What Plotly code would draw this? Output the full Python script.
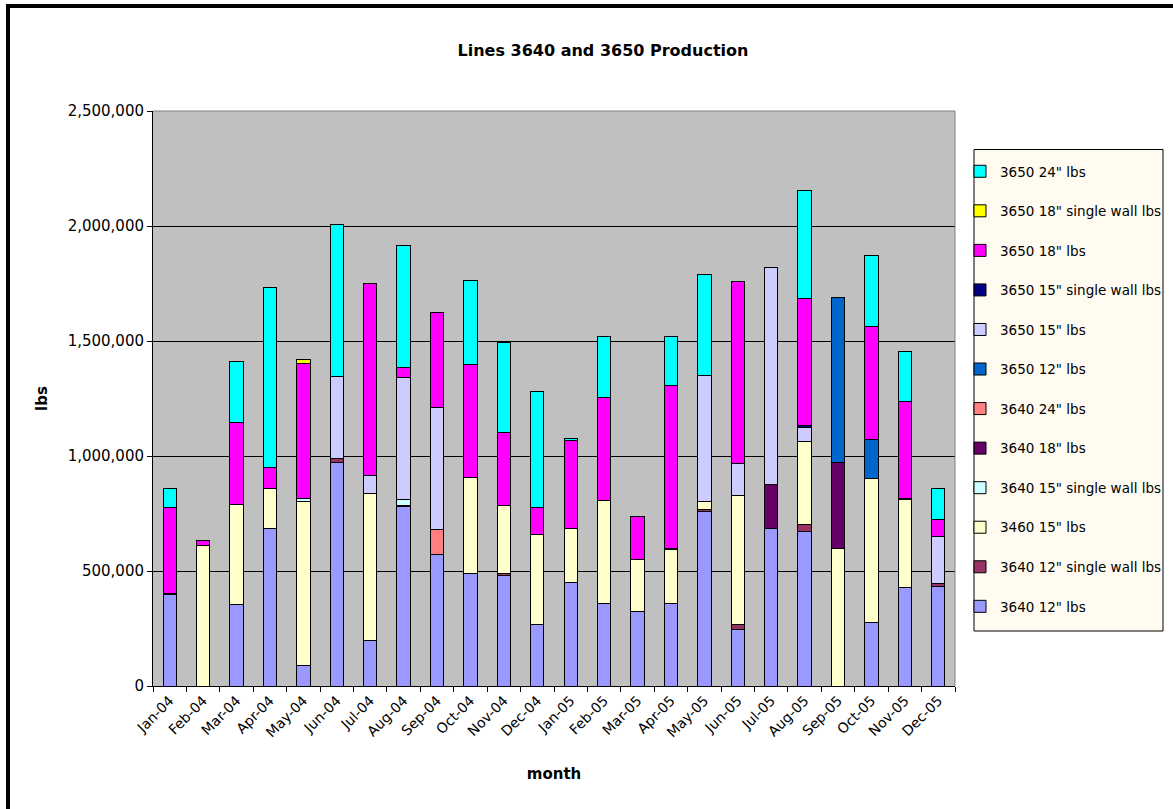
import plotly.graph_objects as go

# Monthly production, Jan 2004 - Dec 2005
months = ["Jan-04", "Feb-04", "Mar-04", "Apr-04", "May-04", "Jun-04",
          "Jul-04", "Aug-04", "Sep-04", "Oct-04", "Nov-04", "Dec-04",
          "Jan-05", "Feb-05", "Mar-05", "Apr-05", "May-05", "Jun-05",
          "Jul-05", "Aug-05", "Sep-05", "Oct-05", "Nov-05", "Dec-05"]

l3640_12 = [400000, 0, 353000, 684000, 91000, 970000, 196000, 779000, 573000, 490000, 481000, 269000,
            451000, 360000, 326000, 360000, 760000, 247000, 686000, 672000, 0, 276000, 429000, 434000]
l3640_12_sw = [4000, 0, 0, 0, 0, 19000, 0, 6000, 0, 0, 7000, 0,
               0, 0, 0, 0, 9000, 20000, 0, 32000, 0, 0, 0, 10000]
l3460_15 = [0, 610000, 438000, 176000, 710000, 0, 642000, 0, 0, 417000, 298000, 388000,
            233000, 447000, 225000, 232000, 35000, 563000, 0, 357000, 600000, 628000, 382000, 0]
l3640_15_sw = [0, 0, 0, 0, 15000, 0, 0, 26000, 0, 0, 0, 0,
               0, 0, 0, 5000, 0, 0, 0, 0, 0, 0, 5000, 0]
l3640_18 = [0, 0, 0, 0, 0, 0, 0, 0, 0, 0, 0, 0,
            0, 0, 0, 0, 0, 0, 189000, 0, 370000, 0, 0, 0]
l3640_24 = [0, 0, 0, 0, 0, 0, 0, 0, 108000, 0, 0, 0,
            0, 0, 0, 0, 0, 0, 0, 0, 0, 0, 0, 0]
l3650_12 = [0, 0, 0, 0, 0, 0, 0, 0, 0, 0, 0, 0,
            0, 0, 0, 0, 0, 0, 0, 0, 721000, 166000, 0, 0]
l3650_15 = [0, 0, 0, 0, 0, 356000, 78000, 530000, 532000, 0, 0, 0,
            0, 0, 0, 0, 545000, 139000, 943000, 64000, 0, 0, 0, 206000]
l3650_15_sw = [0, 0, 0, 0, 0, 0, 0, 0, 0, 0, 0, 0,
               0, 0, 0, 0, 0, 0, 0, 7000, 0, 0, 0, 0]
l3650_18 = [371000, 22000, 353000, 88000, 585000, 0, 833000, 45000, 411000, 492000, 317000, 119000,
            382000, 447000, 184000, 708000, 0, 790000, 0, 551000, 0, 493000, 419000, 75000]
l3650_18_sw = [0, 0, 0, 0, 20000, 0, 0, 0, 0, 0, 0, 0,
               0, 0, 0, 0, 0, 0, 0, 0, 0, 0, 0, 0]
l3650_24 = [85000, 0, 267000, 784000, 0, 662000, 0, 529000, 0, 365000, 389000, 506000,
            10000, 265000, 0, 214000, 440000, 0, 0, 471000, 0, 308000, 220000, 135000]

# stacking order, bottom to top
series = [
    ('3640 12" lbs', l3640_12, "#9999FF"),
    ('3640 12" single wall lbs', l3640_12_sw, "#993366"),
    ('3460 15" lbs', l3460_15, "#FFFFCC"),
    ('3640 15" single wall lbs', l3640_15_sw, "#CCFFFF"),
    ('3640 18" lbs', l3640_18, "#660066"),
    ('3640 24" lbs', l3640_24, "#FF8080"),
    ('3650 12" lbs', l3650_12, "#0066CC"),
    ('3650 15" lbs', l3650_15, "#CCCCFF"),
    ('3650 15" single wall lbs', l3650_15_sw, "#000080"),
    ('3650 18" lbs', l3650_18, "#FF00FF"),
    ('3650 18" single wall lbs', l3650_18_sw, "#FFFF00"),
    ('3650 24" lbs', l3650_24, "#00FFFF"),
]

FONT = "DejaVu Sans"

fig = go.Figure()
for i, (name, vals, color) in enumerate(series):
    fig.add_trace(go.Bar(
        x=months, y=vals, name=name, legendgroup=name,
        legendrank=1000 - i,  # top of the stack listed first
        marker=dict(color=color, line=dict(color="black", width=1)),
    ))

W, H = 1173, 809
ML, MR, MT, MB = 153, 218, 111, 123
pw, ph = W - ML - MR, H - MT - MB


def px(x):
    return (x - ML) / pw


def py(y):
    return (H - MB - y) / ph


fig.update_layout(
    width=W, height=H,
    barmode="stack", bargap=0.6,
    paper_bgcolor="white", plot_bgcolor="#C0C0C0",
    margin=dict(l=ML, r=MR, t=MT, b=MB, pad=0, autoexpand=False),
    font=dict(family=FONT, size=14, color="black"),
    title=dict(text="Lines 3640 and 3650 Production",
               font=dict(family=FONT, size=16, weight="bold", color="black"),
               x=603 / W, xref="container", xanchor="center",
               y=1 - 50 / H, yref="container", yanchor="middle"),
    xaxis=dict(type="category", tickson="boundaries", ticks="outside", ticklen=5,
               tickcolor="black", showline=True, linecolor="black", linewidth=1,
               tickangle=-45, tickfont=dict(size=14), showgrid=False,
               title=dict(text="month", font=dict(size=15, weight="bold"), standoff=29)),
    yaxis=dict(range=[0, 2500000], dtick=500000, tickformat=",", ticks="outside",
               ticklen=5, tickcolor="black", showline=True, linecolor="black",
               linewidth=1, gridcolor="black", gridwidth=1, zeroline=False,
               tickfont=dict(size=15),
               title=dict(text="lbs", font=dict(size=15, weight="bold"), standoff=16)),
    legend=dict(traceorder="grouped", tracegroupgap=19, maxheight=700,
                bgcolor="rgba(0,0,0,0)", borderwidth=0,
                font=dict(size=13.5),
                xref="container", yref="container",
                x=960 / W, xanchor="left", y=1 - 156 / H, yanchor="top"),
    showlegend=True,
)

# legend panel
fig.add_shape(type="rect", xref="paper", yref="paper",
              x0=px(974), x1=px(1163), y0=py(631), y1=py(149.5),
              fillcolor="#FFFBF0", line=dict(color="black", width=1), layer="below")
# plot-area frame on top and right
fig.add_shape(type="line", xref="paper", yref="paper", x0=0, x1=1, y0=1, y1=1,
              line=dict(color="#808080", width=1))
fig.add_shape(type="line", xref="paper", yref="paper", x0=1, x1=1, y0=0, y1=1,
              line=dict(color="#808080", width=1))
# chart frame along the top and left edges
fig.add_shape(type="line", xref="paper", yref="paper", x0=px(6), x1=px(W + 5),
              y0=py(6), y1=py(6), line=dict(color="black", width=4))
fig.add_shape(type="line", xref="paper", yref="paper", x0=px(8), x1=px(8),
              y0=py(4), y1=py(H + 5), line=dict(color="black", width=4))

fig.write_html("out.html")
